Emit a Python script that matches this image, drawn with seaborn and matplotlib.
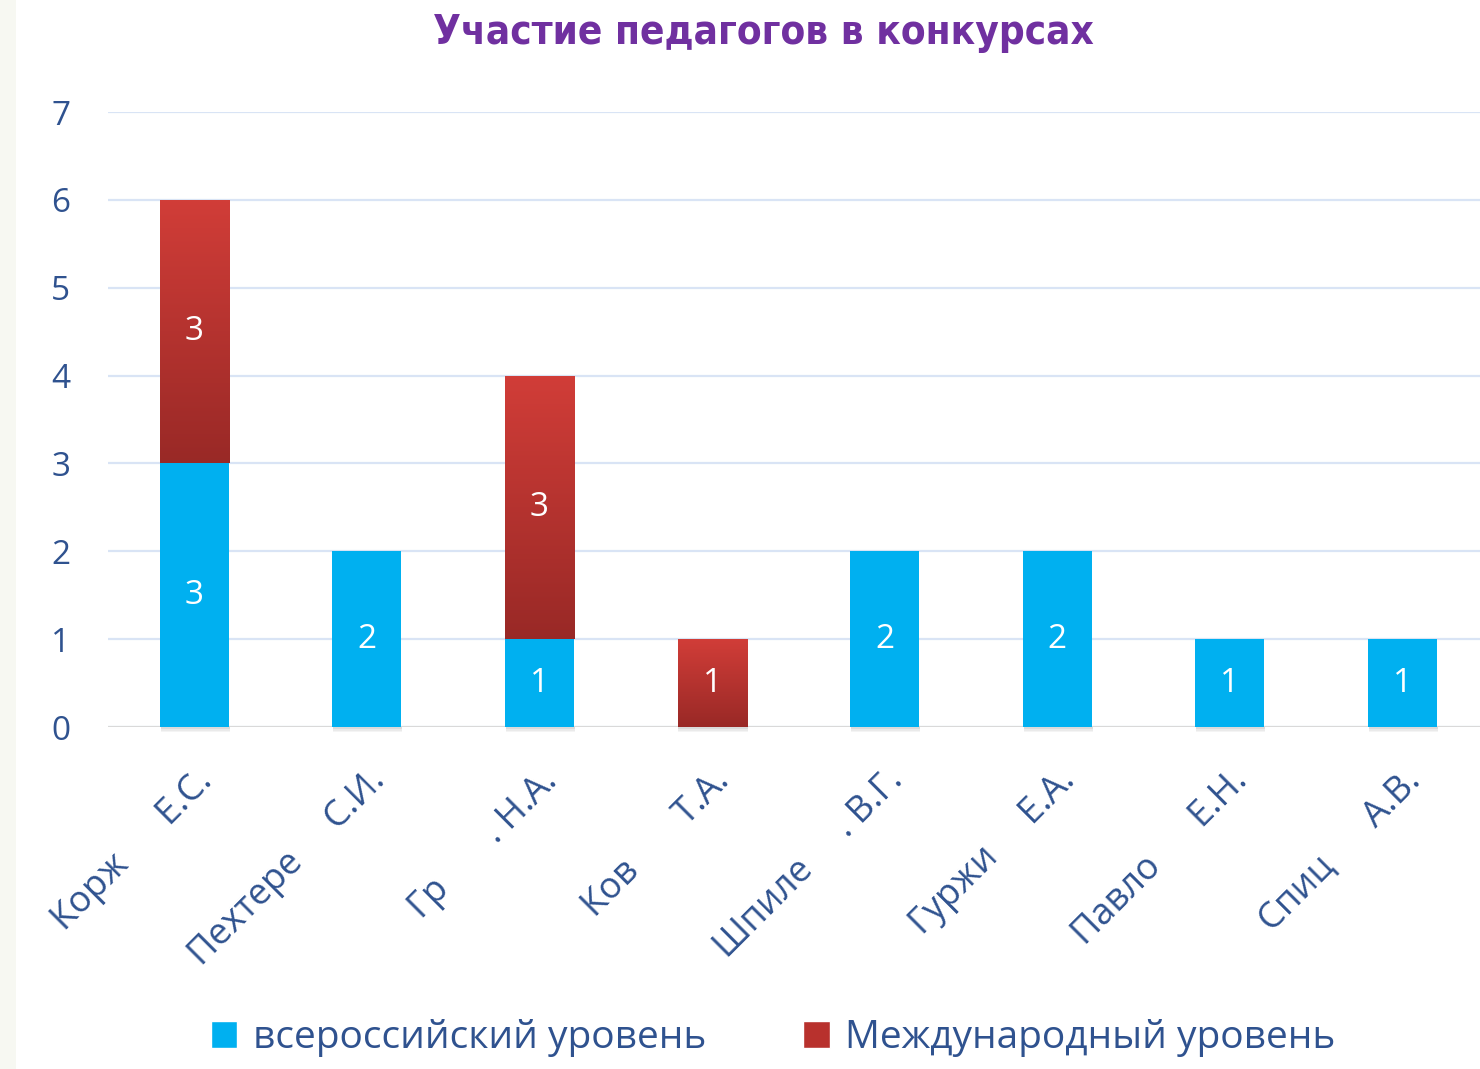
import numpy as np
import pandas as pd
import matplotlib
matplotlib.use("Agg")
import matplotlib.pyplot as plt
import seaborn as sns
from matplotlib.patches import Rectangle
from matplotlib import font_manager as fm

# Teachers (surnames partially hidden) and their contest participation counts
teachers = ["Корж      Е.С.", "Пехтере     С.И.", "Гр       . Н.А.", "Ков       Т.А.",
            "Шпиле     . В.Г.", "Гуржи     Е.А.", "Павло      Е.Н.", "Спиц      А.В."]
national = [3, 2, 1, 0, 2, 2, 1, 1]        # всероссийский уровень
international = [3, 0, 3, 1, 0, 0, 0, 0]   # Международный уровень
series_names = ["всероссийский уровень", "Международный уровень"]
y_ticks = [0, 1, 2, 3, 4, 5, 6, 7]

BLUE = "#00b0f0"
RED_TOP = np.array([0.82, 0.24, 0.22])
RED_BOT = np.array([0.60, 0.16, 0.15])
TEXT = "#2f528f"
GRID = "#d9e4f5"

sns.set_theme(style="white")
names = {f.name for f in fm.fontManager.ttflist}
base_font = "Open Sans" if "Open Sans" in names else "DejaVu Sans"
plt.rcParams["font.family"] = [base_font, "DejaVu Sans"]

fig = plt.figure(figsize=(14.8, 10.69), dpi=100)
fig.patch.set_facecolor("white")
# light strip along the left edge
fig.patches.append(Rectangle((0, 0), 16 / 1480, 1, transform=fig.transFigure,
                             facecolor="#f7f8f2", edgecolor="none", zorder=0))

ax = fig.add_axes([108 / 1480, 342 / 1069, 1.006 - 108 / 1480, (957 - 342) / 1069])

df = pd.DataFrame({"teacher": teachers, "nat": national, "intl": international})
df["total"] = df["nat"] + df["intl"]

# stacked bars: totals drawn first, national part drawn on top in blue
sns.barplot(data=df, x="teacher", y="total", color="#c0392b", width=0.4,
            saturation=1, ax=ax, zorder=3)
sns.barplot(data=df, x="teacher", y="nat", color=BLUE, width=0.4,
            saturation=1, ax=ax, zorder=4)

n = len(teachers)
red_bars = ax.patches[:n]
blue_bars = ax.patches[n:2 * n]

# vertical gradient for the red segments
grad = np.linspace(0, 1, 256)[:, None]
grad_img = RED_BOT[None, None, :] * (1 - grad[..., None]) + RED_TOP[None, None, :] * grad[..., None]
grad_img = np.repeat(grad_img, 2, axis=1)
for i, rb in enumerate(red_bars):
    x0 = rb.get_x()
    w = rb.get_width()
    y0 = national[i]
    y1 = national[i] + international[i]
    rb.set_visible(False)
    if international[i] > 0:
        im = ax.imshow(grad_img, extent=(x0, x0 + w, y0, y1), origin="lower",
                       aspect="auto", zorder=3, interpolation="bilinear")
        clip = Rectangle((x0, y0), w, y1 - y0, transform=ax.transData,
                         facecolor="none", edgecolor="none")
        ax.add_patch(clip)
        im.set_clip_path(clip)
    # soft shadow below each bar
    if y1 > 0:
        for k, a in enumerate([0.35, 0.2, 0.1]):
            ax.add_patch(Rectangle((x0 + 0.005, -0.02 * (k + 1)), w, 0.02,
                                   facecolor="#9a9a9a", edgecolor="none", alpha=a,
                                   zorder=2, clip_on=False))
for bb in blue_bars:
    bb.set_edgecolor("none")

# value labels
for i in range(n):
    if national[i] > 0:
        ax.text(i, national[i] / 2, str(national[i]), ha="center", va="center",
                color="white", fontsize=24, zorder=6)
    if international[i] > 0:
        ax.text(i, national[i] + international[i] / 2, str(international[i]),
                ha="center", va="center", color="white", fontsize=24, zorder=6)

ax.set_xlim(-0.5, n - 0.5)
ax.set_ylim(0, 7)
ax.set_yticks(y_ticks)
ax.set_yticklabels([str(t) for t in y_ticks], color=TEXT, fontsize=24)
ax.yaxis.grid(True, color=GRID, linewidth=1.6, zorder=0)
ax.set_axisbelow(True)
ax.tick_params(axis="y", length=0, pad=34)
ax.tick_params(axis="x", length=0, pad=26)
ax.set_xticks(range(n))
ax.set_xticklabels(teachers, rotation=45, ha="right", rotation_mode="anchor",
                   color=TEXT, fontsize=26)
for lbl in ax.get_yticklabels():
    lbl.set_horizontalalignment("center")
for s in ax.spines.values():
    s.set_visible(False)
ax.axhline(0, color="#d9d9d9", linewidth=1.5, zorder=1)
ax.set_xlabel("")
ax.set_ylabel("")

fig.text(763 / 1480, 1 - 33 / 1069, "Участие педагогов в конкурсах", ha="center",
         va="center", fontsize=29, fontweight="bold", fontstretch="condensed",
         color="#7030a0", family=["DejaVu Sans"])

# legend
handles = [Rectangle((0, 0), 1, 1, facecolor=BLUE),
           Rectangle((0, 0), 1, 1, facecolor="#b8312d")]
leg = fig.legend(handles, series_names, loc="center",
                 bbox_to_anchor=(773 / 1480, 1 - 1038 / 1069),
                 ncol=2, frameon=False, fontsize=28, handlelength=0.68,
                 handleheight=0.68, handletextpad=0.4, columnspacing=2.5)
for t in leg.get_texts():
    t.set_color(TEXT)

fig.savefig("out.png", dpi=100)
